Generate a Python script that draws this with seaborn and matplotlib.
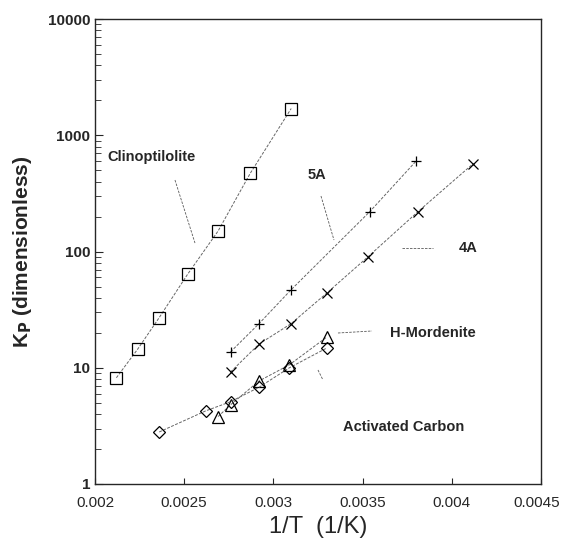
import numpy as np
import pandas as pd
import matplotlib
matplotlib.use("Agg")
import matplotlib.pyplot as plt
import matplotlib.transforms as mtransforms
import seaborn as sns

# Data (1/T in 1/K, Kp dimensionless)
clino_x = [0.00212, 0.00224, 0.00236, 0.00252, 0.00269, 0.00287, 0.00310]
clino_y = [8.2, 14.5, 27, 64, 150, 470, 1700]

a5_x = [0.00276, 0.00292, 0.00310, 0.00354, 0.00380]
a5_y = [13.7, 24, 47, 220, 600]

a4_x = [0.00276, 0.00292, 0.00310, 0.00330, 0.00353, 0.00381, 0.00412]
a4_y = [9.2, 16, 24, 44, 90, 220, 570]

hmord_x = [0.00269, 0.00276, 0.00292, 0.00309, 0.00330]
hmord_y = [3.8, 4.8, 7.7, 10.6, 18.4]

carbon_x = [0.00236, 0.00262, 0.00276, 0.00292, 0.00309, 0.00330]
carbon_y = [2.8, 4.25, 5.1, 6.8, 10, 14.8]

series = [
    ("Clinoptilolite", clino_x, clino_y, "s", 9),
    ("5A", a5_x, a5_y, "+", 7),
    ("4A", a4_x, a4_y, "x", 7),
    ("H-Mordenite", hmord_x, hmord_y, "^", 8),
    ("Activated Carbon", carbon_x, carbon_y, "D", 6),
]

sns.set_style("ticks")
plt.rcParams['font.family'] = ['Liberation Sans', 'DejaVu Sans']

fig = plt.figure(figsize=(5.62, 5.45), dpi=100)
ax = fig.add_axes([0.169, 0.112, 0.7936, 0.853])

for name, xs, ys, mk, ms in series:
    df = pd.DataFrame({"x": xs, "y": ys})
    sns.lineplot(data=df, x="x", y="y", ax=ax, color="0.4", linewidth=0.7,
                 linestyle=(0, (3, 1.5)), marker=mk, markersize=ms,
                 markerfacecolor="none", markeredgecolor="black",
                 markeredgewidth=0.9, sort=False)

ax.set_yscale("log")
ax.set_xlim(0.002, 0.0045)
ax.set_ylim(1, 10000)
ax.set_xticks([0.002, 0.0025, 0.003, 0.0035, 0.004, 0.0045])
ax.set_xticklabels(["0.002", "0.0025", "0.003", "0.0035", "0.004", "0.0045"])
ax.set_yticks([1, 10, 100, 1000, 10000])
ax.set_yticklabels(["1", "10", "100", "1000", "10000"], fontweight="bold")
ax.tick_params(axis="both", which="both", direction="in", labelsize=11,
               right=False, top=False)
ax.tick_params(axis="y", which="major", length=6)
ax.tick_params(axis="y", which="minor", length=4)
ax.tick_params(axis="x", which="major", length=4, pad=9)
for sp in ax.spines.values():
    sp.set_visible(True)
    sp.set_linewidth(1.0)

# keep the last x tick label inside the figure
last = ax.get_xticklabels()[-1]
last.set_transform(last.get_transform() +
                   mtransforms.ScaledTranslation(-4 / 100, 0, fig.dpi_scale_trans))

ax.set_xlabel("1/T  (1/K)", fontsize=17, labelpad=4)
ax.set_ylabel("K$_\\mathbf{P}$ (dimensionless)", fontsize=15, fontweight="bold", labelpad=10)

# curve labels with leader lines (axes-fraction positions)
def lab(text, tx, ty, x1, y1, x2, y2):
    ax.text(tx, ty, text, transform=ax.transAxes, fontsize=10.5, fontweight="bold",
            ha="left", va="center")
    ax.plot([x1, x2], [y1, y2], transform=ax.transAxes, color="0.35",
            linewidth=0.6, linestyle=(0, (3, 1.5)))

def px(x, y):
    return ((x - 95) / 446, (484 - y) / 465)

def lab_px(text, t, p1, p2):
    tx, ty = px(*t)
    x1, y1 = px(*p1)
    x2, y2 = px(*p2)
    lab(text, tx, ty, x1, y1, x2, y2)

lab_px("Clinoptilolite", (107, 157), (175, 180), (195, 243))
lab_px("5A", (308, 175), (321, 196), (334, 240))
lab_px("4A", (459, 248), (402, 248), (433, 248))
lab_px("H-Mordenite", (390, 333), (338, 333), (372, 331))
lab_px("Activated Carbon", (343, 427), (318, 370), (323, 380))

fig.savefig("out.png", dpi=100)
